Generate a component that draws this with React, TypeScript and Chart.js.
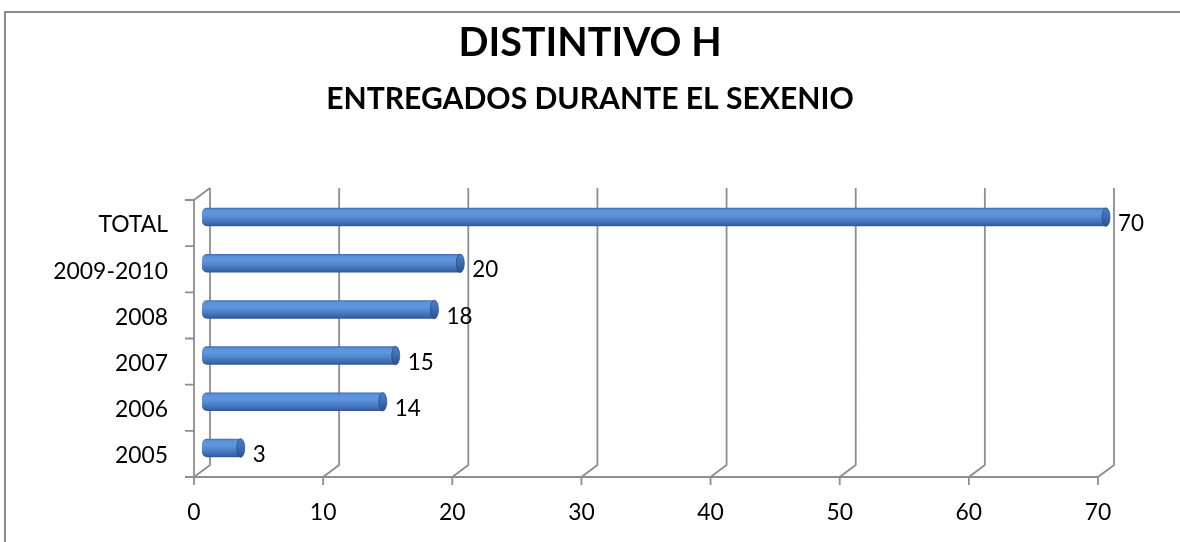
import React, { useEffect, useRef } from "react";
import { Chart, registerables } from "chart.js";

Chart.register(...registerables);

// ---- data ----
const categories = ["TOTAL", "2009-2010", "2008", "2007", "2006", "2005"];
const values = [70, 20, 18, 15, 14, 3];
const xMin = 0;
const xMax = 70;
const xStep = 10;
const titleText = "DISTINTIVO H";
const subtitleText = "ENTREGADOS DURANTE EL SEXENIO";

// ---- style ----
const W = 1180;
const H = 542;
const DX = 16;
const DY = -12;
const AREA_TOP = 200;
const BAR_PCT = 0.4;
const GRID = "#8e8e8e";
const FONT = "Lato, 'Open Sans', 'DejaVu Sans', sans-serif";

function fitSize(text: string, weight: string, target: number): number {
  const c = document.createElement("canvas").getContext("2d")!;
  c.font = `${weight} 100px ${FONT}`;
  const w = c.measureText(text).width;
  return Math.round(((100 * target) / w) * 10) / 10;
}

function barGradient(c: any) {
  const chart = c.chart;
  const ys = chart.scales && chart.scales.y;
  if (!ys || !chart.chartArea || c.type !== "data") return "#4f81bd";
  const y = ys.getPixelForValue(c.dataIndex);
  const cat = Math.abs(ys.getPixelForValue(1) - ys.getPixelForValue(0));
  const h = cat * BAR_PCT;
  const g = chart.ctx.createLinearGradient(0, y - h / 2, 0, y + h / 2);
  g.addColorStop(0, "#3d6cb2");
  g.addColorStop(0.12, "#5a92db");
  g.addColorStop(0.35, "#5f97df");
  g.addColorStop(0.6, "#4f84cb");
  g.addColorStop(0.85, "#3d6aae");
  g.addColorStop(1, "#2f5694");
  return g;
}

const wall3d = {
  id: "wall3d",
  beforeDraw(chart: any) {
    const { ctx } = chart;
    ctx.save();
    ctx.fillStyle = "#ffffff";
    ctx.fillRect(0, 0, chart.width, chart.height);
    ctx.strokeStyle = "#8c8c8c";
    ctx.lineWidth = 2;
    ctx.strokeRect(5, 12, chart.width + 20, chart.height + 20);
    ctx.restore();
  },
  beforeDatasetsDraw(chart: any) {
    const { ctx, chartArea: a, scales } = chart;
    const xs = scales.x;
    const ys = scales.y;
    ctx.save();
    ctx.strokeStyle = GRID;
    ctx.lineWidth = 1.8;
    ctx.beginPath();
    // front floor edge
    ctx.moveTo(a.left - 9, a.bottom);
    ctx.lineTo(xs.getPixelForValue(xMax), a.bottom);
    // front-left wall edge + top diagonal
    ctx.moveTo(a.left, a.bottom);
    ctx.lineTo(a.left, a.top);
    ctx.lineTo(a.left + DX, a.top + DY);
    // category tick marks on the left
    const n = ys.ticks.length;
    const step = (a.bottom - a.top) / n;
    for (let k = 0; k <= n; k++) {
      const y = a.top + k * step;
      ctx.moveTo(a.left - 9, y);
      ctx.lineTo(a.left, y);
    }
    // value gridlines: tick, floor diagonal, back wall vertical
    for (const t of xs.ticks) {
      const x = xs.getPixelForValue(t.value);
      ctx.moveTo(x, a.bottom + 8);
      ctx.lineTo(x, a.bottom);
      ctx.lineTo(x + DX, a.bottom + DY);
      ctx.lineTo(x + DX, a.top + DY);
    }
    ctx.stroke();
    ctx.restore();

    ctx.save();
    ctx.translate(DX / 2, DY / 2);
  },
  afterDatasetsDraw(chart: any) {
    const { ctx, scales } = chart;
    const meta = chart.getDatasetMeta(0);
    // end caps (still translated)
    meta.data.forEach((el: any) => {
      const h = el.height;
      const g = ctx.createLinearGradient(0, el.y - h / 2, 0, el.y + h / 2);
      g.addColorStop(0, "#4d7fc4");
      g.addColorStop(0.5, "#3e6cb0");
      g.addColorStop(1, "#2c508c");
      ctx.beginPath();
      ctx.ellipse(el.x, el.y, 4, h / 2, 0, 0, Math.PI * 2);
      ctx.fillStyle = g;
      ctx.fill();
      ctx.strokeStyle = "rgba(38,66,115,0.85)";
      ctx.lineWidth = 0.8;
      ctx.stroke();
    });
    ctx.restore();

    // data labels
    const size = fitSize("70", "normal", 26);
    ctx.save();
    ctx.font = `normal ${size}px ${FONT}`;
    ctx.fillStyle = "#000";
    ctx.textAlign = "left";
    ctx.textBaseline = "middle";
    meta.data.forEach((el: any, i: number) => {
      const x = scales.x.getPixelForValue(values[i]) + 20;
      ctx.fillText(String(values[i]), x, el.y + 1);
    });
    ctx.restore();
  },
};

export default function App() {
  const ref = useRef<HTMLCanvasElement | null>(null);

  useEffect(() => {
    document.body.style.margin = "0";
    document.body.style.overflow = "hidden";
    const canvas = ref.current!;
    const titleSize = fitSize(titleText, "bold", 263);
    const subSize = fitSize(subtitleText, "bold", 528);
    const tickSize = fitSize("2009-2010", "normal", 115);
    const tTop = 20, tBot = 6, sTop = 8;
    const sBot = AREA_TOP - (tTop + titleSize * 1.2 + tBot + sTop + subSize * 1.2);

    const chart = new Chart(canvas, {
      type: "bar",
      data: {
        labels: categories,
        datasets: [
          {
            data: values,
            backgroundColor: barGradient,
            borderWidth: 0,
            borderRadius: { topLeft: 5, bottomLeft: 5, topRight: 0, bottomRight: 0 },
            borderSkipped: false,
            categoryPercentage: 1,
            barPercentage: BAR_PCT,
            clip: false,
          } as any,
        ],
      },
      plugins: [wall3d],
      options: {
        indexAxis: "y",
        animation: false,
        responsive: false,
        maintainAspectRatio: false,
        devicePixelRatio: 1,
        layout: { padding: 0 },
        plugins: {
          legend: { display: false },
          tooltip: { enabled: false },
          title: {
            display: true,
            text: titleText,
            color: "#000",
            font: { family: FONT, size: titleSize, weight: "bold", lineHeight: 1.2 },
            padding: { top: tTop, bottom: tBot },
          },
          subtitle: {
            display: true,
            text: subtitleText,
            color: "#000",
            font: { family: FONT, size: subSize, weight: "bold", lineHeight: 1.2 },
            padding: { top: sTop, bottom: sBot },
          },
        },
        scales: {
          x: {
            type: "linear",
            min: xMin,
            max: xMax,
            grid: { display: false, drawTicks: false },
            border: { display: false },
            ticks: {
              stepSize: xStep,
              color: "#000",
              padding: 22,
              font: { family: FONT, size: tickSize },
            },
            afterFit(scale: any) {
              scale.height = 65;
            },
          },
          y: {
            type: "category",
            grid: { display: false, drawTicks: false },
            border: { display: false },
            ticks: {
              color: "#000",
              padding: 26,
              labelOffset: 2,
              font: { family: FONT, size: tickSize },
            },
            afterFit(scale: any) {
              scale.width = 194;
            },
          },
          yRight: {
            type: "category",
            position: "right",
            display: true,
            grid: { display: false, drawTicks: false },
            border: { display: false },
            ticks: { display: false },
            afterFit(scale: any) {
              scale.width = 82;
            },
          },
        },
      } as any,
    });
    return () => chart.destroy();
  }, []);

  return (
    <div style={{ width: W, height: H }}>
      <canvas ref={ref} width={W} height={H} style={{ width: W, height: H, display: "block" }} />
    </div>
  );
}
